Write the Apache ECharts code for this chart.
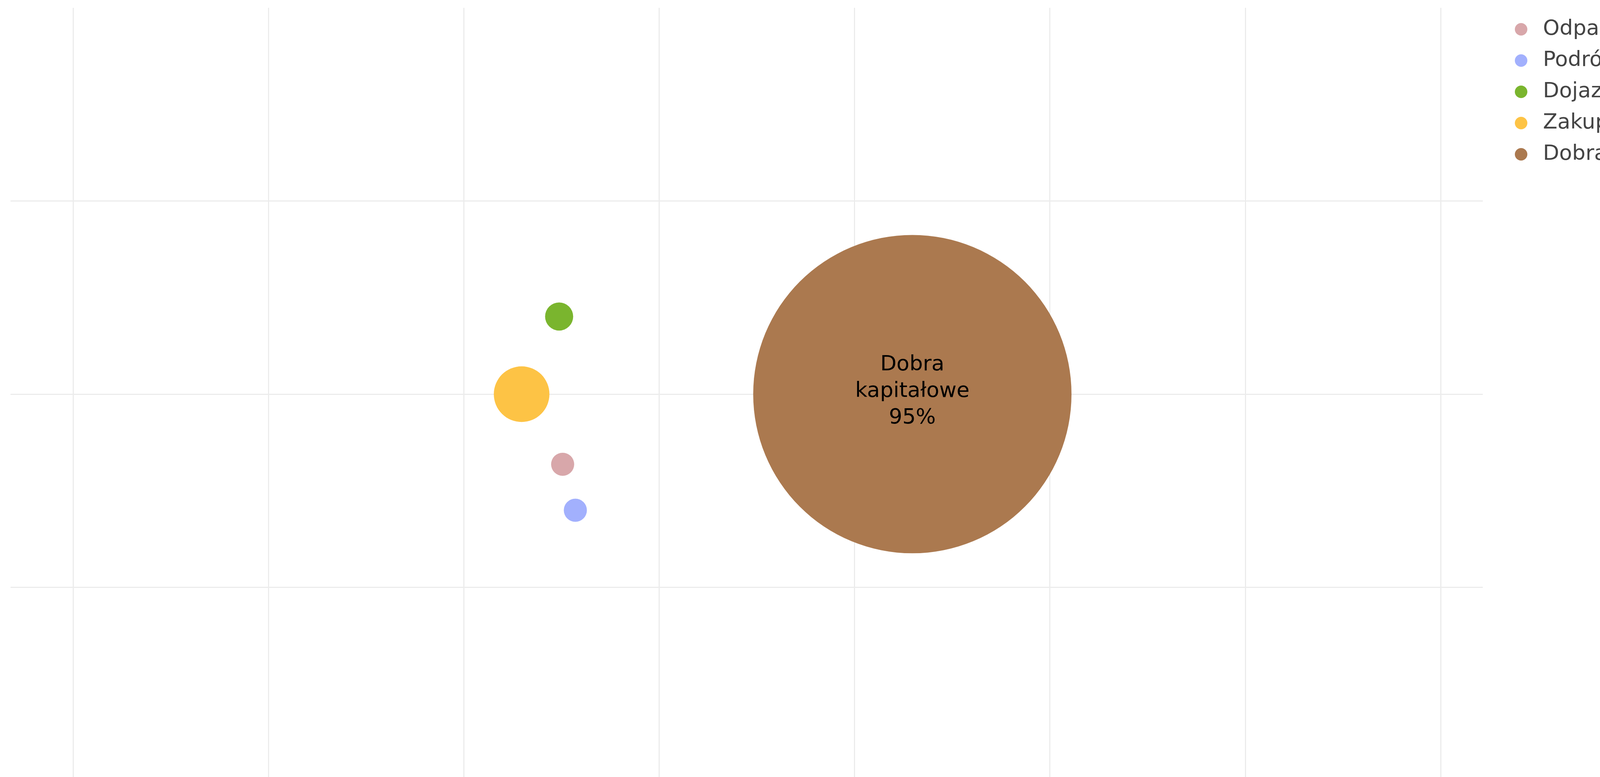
<!DOCTYPE html>
<html>
<head>
<meta charset="utf-8">
<script src="https://cdn.jsdelivr.net/npm/echarts@6/dist/echarts.min.js"></script>
<style>
html,body{margin:0;padding:0;background:#fff;overflow:hidden;}
#chart{width:4712px;height:1989px;}
</style>
</head>
<body>
<div id="chart"></div>
<script>
// categories (legend order)
const categories = ["Odpady", "Podróże służbowe", "Dojazdy pracowników", "Zakupione towary i usługi", "Dobra kapitałowe"];
// share of emissions (%)
const shares = [0.5, 0.5, 0.74, 2.9, 95];
// bubble layout positions
const xPos = [2.506, 2.571, 2.488, 2.296, 4.296];
const yPos = [-0.363, -0.601, 0.402, 0.0, 0.0];
const colors = ["#D8A7AA", "#A2B0FD", "#7AB52E", "#FDC345", "#AB794F"];
const labelled = [false, false, false, false, true];

const FONT = "DejaVu Sans";
const sizeK = 83.6;

const series = categories.map((name, i) => ({
  name: name,
  type: "scatter",
  data: [[xPos[i], yPos[i], shares[i]]],
  symbol: "circle",
  symbolSize: v => sizeK * Math.sqrt(v[2]),
  itemStyle: { color: colors[i], opacity: 1 },
  emphasis: { disabled: true },
  label: {
    show: labelled[i],
    position: "inside",
    offset: [0, -7],
    formatter: p => p.seriesName.replace(" ", "\n") + "\n" + Math.round(p.value[2]) + "%",
    color: "#000",
    fontFamily: FONT,
    fontSize: 54,
    lineHeight: 68
  },
  z: 2
}));

const chart = echarts.init(document.getElementById("chart"), null, { renderer: "canvas" });
chart.setOption({
  backgroundColor: "#fff",
  animation: false,
  textStyle: { fontFamily: FONT },
  grid: { left: 27, right: 916, top: 20, bottom: 0, containLabel: false },
  xAxis: {
    type: "value",
    min: -0.32,
    max: 7.216,
    splitNumber: 8,
    axisLine: { show: false },
    axisTick: { show: false },
    axisLabel: { show: false },
    splitLine: { show: true, showMinLine: false, showMaxLine: false, lineStyle: { color: "#ececec", width: 3 } }
  },
  yAxis: {
    type: "value",
    min: -1.982,
    max: 2.0,
    splitNumber: 4,
    axisLine: { show: false },
    axisTick: { show: false },
    axisLabel: { show: false },
    splitLine: { show: true, showMinLine: false, showMaxLine: false, lineStyle: { color: "#ececec", width: 3 } }
  },
  legend: {
    orient: "vertical",
    left: 3873,
    top: 40,
    icon: "circle",
    itemWidth: 102,
    itemHeight: 32,
    itemGap: 20,
    data: categories,
    textStyle: { color: "#444", fontFamily: FONT, fontSize: 54, lineHeight: 60 }
  },
  series: series
});
</script>
</body>
</html>
